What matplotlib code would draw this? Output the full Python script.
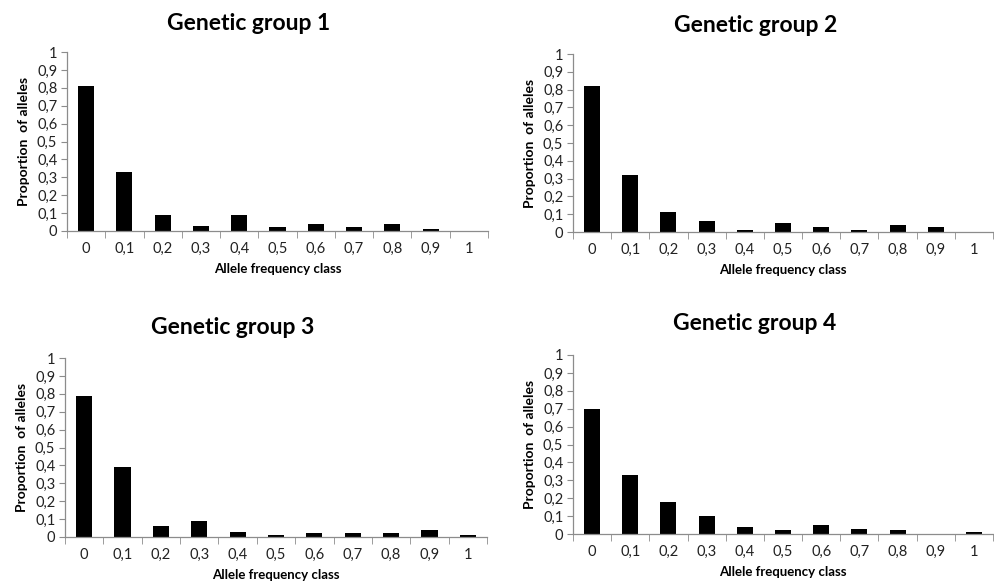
import matplotlib
matplotlib.use("Agg")
import matplotlib.pyplot as plt
import numpy as np

plt.rcParams['font.family'] = ['Lato', 'DejaVu Sans']

categories = ["0", "0,1", "0,2", "0,3", "0,4", "0,5", "0,6", "0,7", "0,8", "0,9", "1"]
group1 = [0.81, 0.33, 0.09, 0.03, 0.09, 0.02, 0.04, 0.02, 0.04, 0.01, 0.0]
group2 = [0.82, 0.32, 0.11, 0.06, 0.01, 0.05, 0.03, 0.01, 0.04, 0.03, 0.0]
group3 = [0.79, 0.39, 0.06, 0.09, 0.03, 0.01, 0.02, 0.02, 0.02, 0.04, 0.01]
group4 = [0.70, 0.33, 0.18, 0.10, 0.04, 0.02, 0.05, 0.03, 0.02, 0.0, 0.01]
titles = ["Genetic group 1", "Genetic group 2", "Genetic group 3", "Genetic group 4"]
yticks = [0, 0.1, 0.2, 0.3, 0.4, 0.5, 0.6, 0.7, 0.8, 0.9, 1]
ytick_labels = ["0", "0,1", "0,2", "0,3", "0,4", "0,5", "0,6", "0,7", "0,8", "0,9", "1"]

W, H = 995, 586
fig = plt.figure(figsize=(W / 100, H / 100), dpi=100)

# (left, top, right, bottom) in pixels
boxes = [(67, 52, 488, 231), (573, 54, 993, 232), (65, 358, 487, 537), (573, 355, 993, 534)]
title_pos = [(249, 23), (756, 25), (233, 327), (755, 323)]
data = [group1, group2, group3, group4]

axis_col = "#8c8c8c"
for i, (vals, box) in enumerate(zip(data, boxes)):
    l, t, r, b = box
    ax = fig.add_axes([l / W, 1 - b / H, (r - l) / W, (b - t) / H])
    x = np.arange(len(categories))
    ax.bar(x, vals, width=0.42, color="black")
    ax.set_xlim(-0.5, len(categories) - 0.5)
    ax.set_ylim(0, 1)
    ax.set_yticks(yticks)
    ax.set_yticklabels(ytick_labels, fontsize=10.5, color="#222222")
    ax.set_xticks(x)
    ax.set_xticklabels(categories, fontsize=10.5, color="#222222")
    ax.tick_params(axis='x', length=0, pad=8)
    ax.set_xticks(np.arange(-0.5, len(categories) + 0.5, 1), minor=True)
    ax.tick_params(axis='x', which='minor', length=5, color=axis_col, direction='out')
    ax.tick_params(axis='y', length=4, color=axis_col, direction='out', pad=3)
    for s in ['top', 'right']:
        ax.spines[s].set_visible(False)
    for s in ['left', 'bottom']:
        ax.spines[s].set_color(axis_col)
        ax.spines[s].set_linewidth(0.9)
    ax.set_ylabel("Proportion  of alleles", fontsize=10, fontweight='bold', labelpad=5)
    ax.set_xlabel("Allele frequency class", fontsize=9.5, fontweight='bold', labelpad=5)
    tx, ty = title_pos[i]
    fig.text(tx / W, 1 - ty / H, titles[i], fontsize=16.5, fontweight='bold',
             ha='center', va='center')

fig.savefig("out.png", dpi=100)
